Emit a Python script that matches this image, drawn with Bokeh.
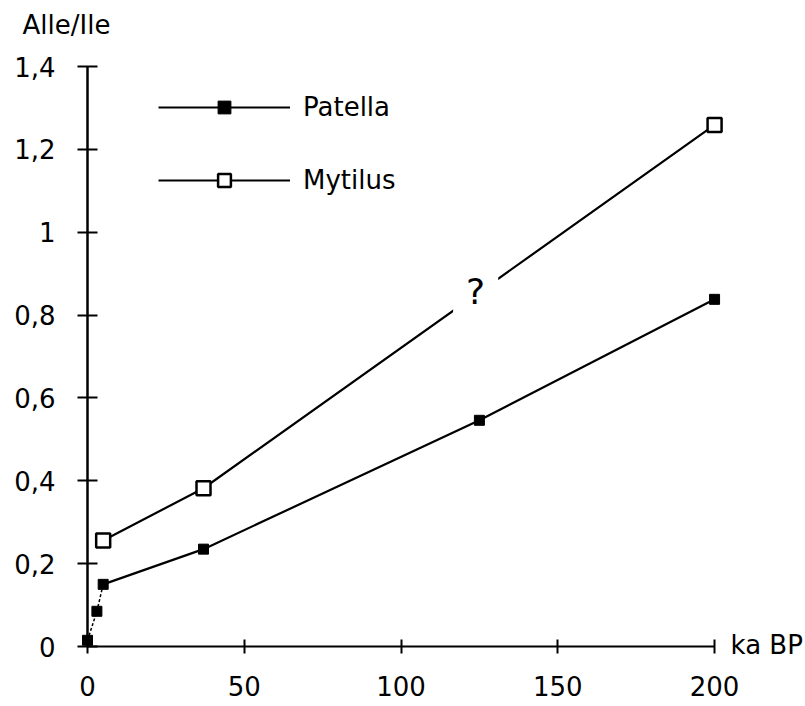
import numpy as np
from bokeh.plotting import figure
from bokeh.models import Range1d, FixedTicker, Label, Legend, LegendItem
from bokeh.core.properties import value
from bokeh.embed import file_html
from bokeh.resources import INLINE

# ---- data ----
age_patella = [0, 3, 5, 37, 125, 200]
ratio_patella = [0.015, 0.085, 0.15, 0.235, 0.546, 0.838]
age_mytilus = [5, 37, 200]
ratio_mytilus = [0.256, 0.382, 1.259]
series_names = ["Patella", "Mytilus"]
x_ticks = [0, 50, 100, 150, 200]
x_tick_labels = ["0", "50", "100", "150", "200"]
y_ticks = [0, 0.2, 0.4, 0.6, 0.8, 1.0, 1.2, 1.4]
y_tick_labels = ["0", "0,2", "0,4", "0,6", "0,8", "1", "1,2", "1,4"]
y_title = "Alle/Ile"
x_unit = "ka BP"
query_mark = "?"
query_age = 123.8

FONT = "DejaVu Sans"
FS = "26px"

p = figure(width=805, height=706,
           x_range=Range1d(0, 229), y_range=Range1d(0, 1.4),
           output_backend="svg", toolbar_location=None,
           min_border_left=87, min_border_right=0,
           min_border_top=66, min_border_bottom=60)
p.grid.visible = False
p.outline_line_color = None
p.background_fill_color = "white"
p.border_fill_color = "white"

# axes
xax = p.xaxis[0]
xax.ticker = FixedTicker(ticks=x_ticks)
xax.major_label_overrides = dict(zip(x_ticks, x_tick_labels))
xax.bounds = (x_ticks[0], x_ticks[-1])
xax.major_tick_in = 7
xax.major_tick_out = 7
xax.minor_tick_in = 0
xax.minor_tick_out = 0
xax.major_label_standoff = 22
xax.axis_line_width = 2
xax.major_tick_line_width = 2
xax.axis_line_color = "black"
xax.major_tick_line_color = "black"
xax.major_label_text_font = FONT
xax.major_label_text_font_size = FS
xax.major_label_text_color = "black"

yax = p.yaxis[0]
yax.ticker = FixedTicker(ticks=y_ticks)
yax.major_label_overrides = dict(zip(y_ticks, y_tick_labels))
yax.major_tick_in = 10
yax.major_tick_out = 10
yax.minor_tick_in = 0
yax.minor_tick_out = 0
yax.major_label_standoff = 22
yax.axis_line_width = 2.5
yax.major_tick_line_width = 2
yax.axis_line_color = "black"
yax.major_tick_line_color = "black"
yax.major_label_text_font = FONT
yax.major_label_text_font_size = FS
yax.major_label_text_color = "black"

# lines
p.line(age_patella[:3], ratio_patella[:3], line_color="black", line_width=1.5, line_dash="3 2")
pat_line = p.line(age_patella[2:], ratio_patella[2:], line_color="black", line_width=2.2)
myt_line = p.line(age_mytilus, ratio_mytilus, line_color="black", line_width=2.2)

# question mark interrupting the Mytilus line
qy = float(np.interp(query_age, age_mytilus, ratio_mytilus))
p.add_layout(Label(x=query_age, y=qy, y_offset=3, text=query_mark,
                   text_align="center", text_baseline="middle",
                   text_font=FONT, text_font_size="36px", text_color="black",
                   background_fill_color="white", padding=13))

# markers
pat_pts = p.scatter(age_patella, ratio_patella, marker="square", size=10,
                    fill_color="black", line_color="black", level="overlay")
myt_pts = p.scatter(age_mytilus, ratio_mytilus, marker="square", size=14,
                    fill_color="white", line_color="black", line_width=2.5,
                    level="overlay")

# y quantity above the y axis
p.text(x=[0], y=[y_ticks[-1]], text=[y_title], x_offset=-65, y_offset=-42,
       text_align="left", text_baseline="middle", level="overlay",
       text_font=value(FONT), text_font_size=FS, text_color="black")

# x unit at the end of the axis
p.text(x=[x_ticks[-1]], y=[0], text=[x_unit], x_offset=16, y_offset=-2,
       text_align="left", text_baseline="middle", level="overlay",
       text_font=value(FONT), text_font_size=FS, text_color="black")

legend = Legend(items=[LegendItem(label=series_names[0], renderers=[pat_line, pat_pts]),
                       LegendItem(label=series_names[1], renderers=[myt_line, myt_pts])],
                location=(71, 450), glyph_width=132, glyph_height=32,
                label_standoff=13, spacing=41, padding=0, margin=0,
                border_line_color=None, background_fill_alpha=0,
                label_text_font=FONT, label_text_font_size=FS,
                label_text_color="black")
p.add_layout(legend)

open("out.html", "w").write(file_html(p, INLINE))
